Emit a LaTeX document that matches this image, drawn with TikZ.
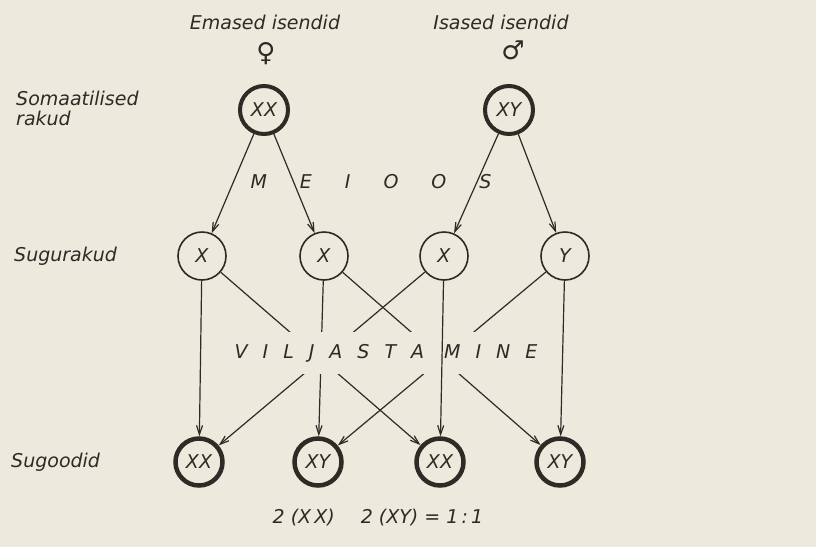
\documentclass[tikz,border=0pt]{standalone}
\usepackage{fontspec}
\setmainfont{DejaVu Sans}
\usetikzlibrary{arrows.meta,positioning}
\definecolor{paper}{RGB}{237,233,221}
\definecolor{ink}{RGB}{48,42,38}

\begin{document}
\begin{tikzpicture}
    [x=1pt, y=-1pt, color=ink,
    font=\fontsize{19}{20}\selectfont\itshape,
    soma/.style={circle, draw, line width=4pt, minimum size=48pt, inner sep=0pt},
    gamete/.style={circle, draw, line width=1.6pt, minimum size=48pt, inner sep=0pt},
    zygote/.style={circle, draw, line width=4.5pt, minimum size=47pt, inner sep=0pt},
    rowlabel/.style={anchor=west, align=left, inner sep=1pt},
    sym/.style={font=\fontsize{26}{26}\selectfont\upshape, inner sep=0pt},
    arr/.style={line width=1.2pt, -{Straight Barb[length=9pt,width=6pt]}}]
  \useasboundingbox (0,0) rectangle (816,547);
  \fill [paper] (0,0) rectangle (816,547);

  % parents
  \node [soma] (xx) at (264,110) {XX};
  \node [soma] (xy) at (509,110) {XY};
  \node [sym] (venus) at (266,54) {♀};
  \node [sym] (mars) at (513,50) {♂};
  \node (female) at (265,22) {Emased isendid};
  \node (male) at (501,22) {Isased isendid};

  % gametes and zygotes
  \node [gamete] (g1) at (202,256) {X};
  \node [gamete] (g2) at (324,256) {X};
  \node [gamete] (g3) at (444,256) {X};
  \node [gamete] (g4) at (565,256) {Y};
  \node [zygote] (z1) at (199,462) {XX};
  \node [zygote] (z2) at (318,462) {XY};
  \node [zygote] (z3) at (440,462) {XX};
  \node [zygote] (z4) at (560,462) {XY};

  % row labels
  \node [rowlabel] (somalbl) at (15,108) {Somaatilised\\rakud};
  \node [rowlabel] (gamlbl) at (13,256) {Sugurakud};
  \node [rowlabel] (zyglbl) at (10,462) {Sugoodid};

  \node (meiosis) at (371,182) {\spaceskip=33pt M E I O O S};

  \draw [arr] (xx) -- (g1);
  \draw [arr] (xx) -- (g2);
  \draw [arr] (xy) -- (g3);
  \draw [arr] (xy) -- (g4);

  \draw [arr] (g1) -- (z1);
  \draw [arr] (g1) -- (z3);
  \draw [arr] (g2) -- (z2);
  \draw [arr] (g2) -- (z4);
  \draw [arr] (g3) -- (z1);
  \draw [arr] (g4) -- (z2);
  \draw [arr] (g4) -- (z4);

  \node [fill=paper, inner xsep=3pt, inner ysep=12pt] (fert) at (386,353)
    {\spaceskip=15pt V I L J A S T A\hspace{5pt} M I N E};
  \draw [arr] (g3) -- (z3);

  \node (ratio) at (378,518) {2 (X\,X)\hspace{26pt}2 (XY) = 1\,:\,1};
\end{tikzpicture}
\end{document}
